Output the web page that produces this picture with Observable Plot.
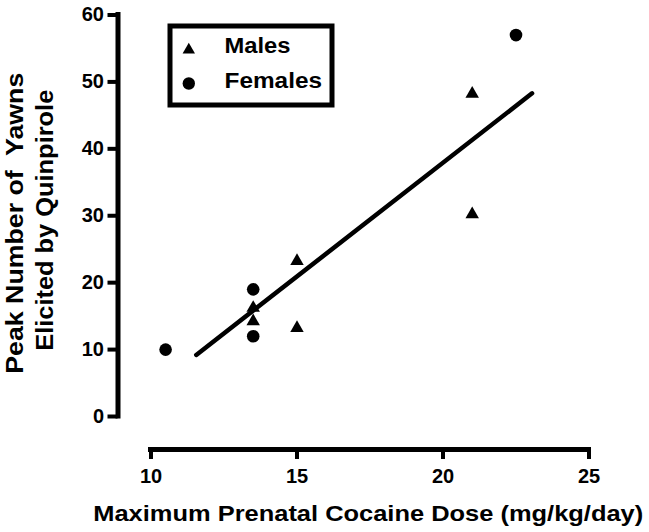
<!DOCTYPE html>
<html>
<head>
<meta charset="utf-8">
<script src="https://cdn.jsdelivr.net/npm/d3@7"></script>
<script src="https://cdn.jsdelivr.net/npm/@observablehq/plot@0.6"></script>
<style>
  html, body { margin: 0; padding: 0; background: white; }
  #wrap { position: relative; width: 649px; height: 532px; }
  #legend { position: absolute; left: 167px; top: 23px; }
</style>
</head>
<body>
<div id="wrap"><div id="chart"></div><div id="legend"></div></div>
<script>
// ---- data ----
const xTicks = [10, 15, 20, 25];
const yTicks = [0, 10, 20, 30, 40, 50, 60];
const maleDose = [13.5, 13.5, 15, 15, 21, 21];
const maleYawns = [16, 14, 23, 13, 48, 30];
const femaleDose = [10.5, 13.5, 13.5, 22.5];
const femaleYawns = [10, 19, 12, 57];
const fitDose = [11.55, 23.05];
const fitYawns = [9.2, 48.3];
const legendLabels = ["Males", "Females"];
const legendSymbols = ["triangle", "circle"];
const xTitle = "Maximum Prenatal Cocaine Dose (mg/kg/day)";
const yTitleLines = ["Peak Number of  Yawns", "Elicited by Quinpirole"];

const males = maleDose.map((d, i) => ({dose: d, yawns: maleYawns[i]}));
const females = femaleDose.map((d, i) => ({dose: d, yawns: femaleYawns[i]}));
const fit = fitDose.map((d, i) => ({dose: d, yawns: fitYawns[i]}));

const font = "'Liberation Sans', Arial, Helvetica, sans-serif";

const chart = Plot.plot({
  width: 649,
  height: 532,
  marginLeft: 117.5,
  marginRight: 60.5,
  marginTop: 14.5,
  marginBottom: 83,
  insetLeft: 33,
  insetBottom: 33,
  style: {fontFamily: font, fontWeight: "bold", fontSize: "20px", color: "black", background: "white", overflow: "visible"},
  x: {domain: [xTicks[0], xTicks[xTicks.length - 1]]},
  y: {domain: [yTicks[0], yTicks[yTicks.length - 1]]},
  marks: [
    Plot.ruleY([yTicks[0]], {x1: xTicks[0], x2: xTicks[xTicks.length - 1], dy: 33, stroke: "black", strokeWidth: 5, strokeLinecap: "square"}),
    Plot.ruleX([xTicks[0]], {y1: yTicks[0], y2: yTicks[yTicks.length - 1], dx: -33, stroke: "black", strokeWidth: 5, strokeLinecap: "square"}),
    Plot.axisX(xTicks, {tickSize: 10, tickPadding: 9, strokeWidth: 4, fontSize: 20, fontWeight: "bold", label: null}),
    Plot.axisY(yTicks, {tickSize: 10, tickPadding: 4, strokeWidth: 4, fontSize: 20, fontWeight: "bold", label: null}),
    Plot.line(fit, {x: "dose", y: "yawns", stroke: "black", strokeWidth: 4.5, strokeLinecap: "round"}),
    Plot.dot(males, {x: "dose", y: "yawns", symbol: "triangle", r: 5, fill: "black", stroke: "none", dy: -1.5}),
    Plot.dot(females, {x: "dose", y: "yawns", symbol: "circle", r: 6.3, fill: "black", stroke: "none"}),
    Plot.text([xTitle], {text: d => d, frameAnchor: "bottom", textAnchor: "middle", lineAnchor: "middle", dx: 14.75, dy: 64, fontSize: 22.5, fontWeight: "bold", fill: "black"}),
    Plot.text([yTitleLines[0]], {text: d => d, frameAnchor: "left", textAnchor: "middle", lineAnchor: "middle", rotate: -90, dx: -102.5, dy: -9, fontSize: 24, fontWeight: "bold", fill: "black"}),
    Plot.text([yTitleLines[1]], {text: d => d, frameAnchor: "left", textAnchor: "middle", lineAnchor: "middle", rotate: -90, dx: -72.5, dy: -12, fontSize: 24, fontWeight: "bold", fill: "black"})
  ]
});
document.getElementById("chart").appendChild(chart);

const legend = Plot.plot({
  width: 167,
  height: 84,
  margin: 2.5,
  style: {fontFamily: font, fontWeight: "bold", fontSize: "22px", color: "black", background: "white", overflow: "visible"},
  y: {type: "point", domain: legendLabels, range: [24.5, 60], padding: 0, axis: null},
  marks: [
    Plot.frame({stroke: "black", strokeWidth: 5, fill: "white"}),
    Plot.dot([legendLabels[0]], {y: d => d, symbol: legendSymbols[0], r: 4.6, frameAnchor: "left", dx: 18.8, dy: 1.5, fill: "black", stroke: "none"}),
    Plot.dot([legendLabels[1]], {y: d => d, symbol: legendSymbols[1], r: 6.2, frameAnchor: "left", dx: 18.8, fill: "black", stroke: "none"}),
    Plot.text(legendLabels, {y: d => d, text: d => d, frameAnchor: "left", textAnchor: "start", lineAnchor: "middle", dx: 54.5, dy: -2, fontSize: 21.5, fontWeight: "bold", fill: "black"})
  ]
});
document.getElementById("legend").appendChild(legend);

// stretch titles to the widths seen in the reference
const lengths = new Map([
  [xTitle, 550],
  [yTitleLines[0], 301],
  [yTitleLines[1], 261],
  [legendLabels[0], 66],
  [legendLabels[1], 97.5]
]);
for (const root of [chart, legend]) {
  d3.select(root).selectAll("text").each(function () {
    const L = lengths.get(this.textContent);
    if (L) d3.select(this).attr("textLength", L).attr("lengthAdjust", "spacingAndGlyphs");
  });
}
</script>
</body>
</html>
